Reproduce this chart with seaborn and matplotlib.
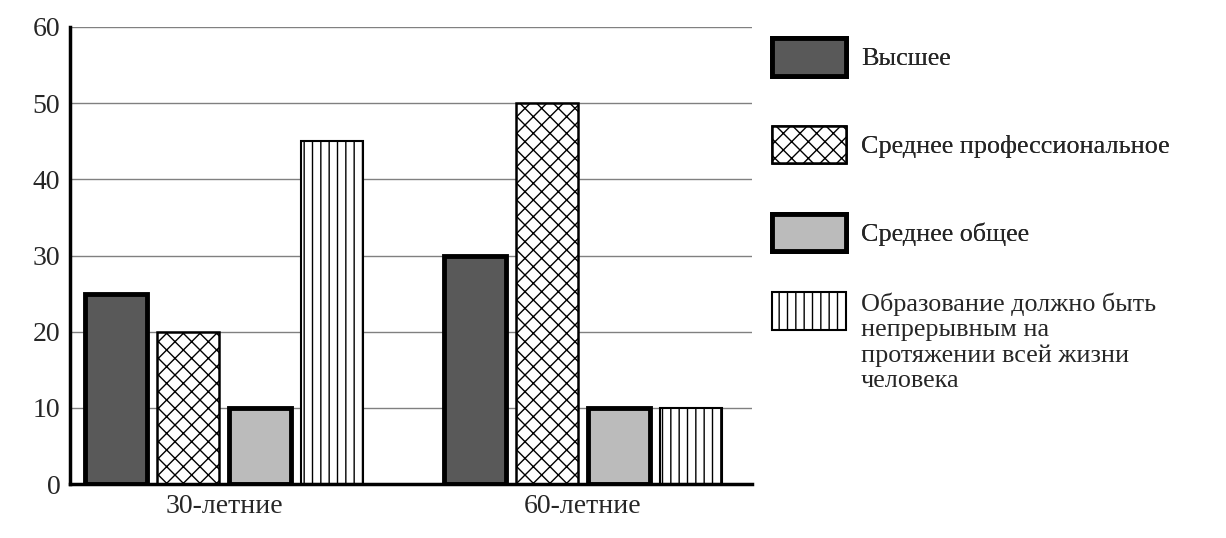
import matplotlib
matplotlib.use("Agg")
import matplotlib.pyplot as plt
import seaborn as sns
import pandas as pd
from matplotlib.patches import Patch

groups = ["30-летние", "60-летние"]
levels = ["Высшее", "Среднее профессиональное", "Среднее общее",
          "Образование должно быть\nнепрерывным на\nпротяжении всей жизни\nчеловека"]
vals_30 = [25, 20, 10, 45]
vals_60 = [30, 50, 10, 10]
yticks = [0, 10, 20, 30, 40, 50, 60]

rows = []
for g, vals in zip(groups, [vals_30, vals_60]):
    for lev, v in zip(levels, vals):
        rows.append({"group": g, "level": lev, "value": v})
df = pd.DataFrame(rows)

sns.set_style("white")
plt.rcParams["font.family"] = ["Liberation Serif", "DejaVu Serif"]
plt.rcParams["hatch.linewidth"] = 1.0
plt.rcParams["hatch.color"] = "black"

fig = plt.figure(figsize=(12.26, 5.38), dpi=100)
ax = fig.add_axes([70/1226, 1-484/538, (752-70)/1226, (484-27)/538])

palette = ["#595959", "white", "#bbbbbb", "white"]
sns.barplot(data=df, x="group", y="value", hue="level", hue_order=levels,
            palette=palette, width=0.8, gap=0.135, ax=ax, zorder=3,
            saturation=1, legend=False)

hatches = [None, "xx", None, "||"]
lws = [3.5, 1.8, 3.5, 1.5]
for cont, h, lw in zip(ax.containers, hatches, lws):
    for p in cont.patches:
        p.set_edgecolor("black")
        p.set_linewidth(lw)
        if h:
            p.set_hatch(h)

ax.set_ylim(0, 60)
ax.set_xlim(-0.429, 1.471)
ax.set_yticks(yticks)
ax.yaxis.grid(True, color="#808080", linewidth=1.0, zorder=0)
ax.set_axisbelow(True)
for s in ["top", "right"]:
    ax.spines[s].set_visible(False)
for s in ["left", "bottom"]:
    ax.spines[s].set_color("black")
    ax.spines[s].set_linewidth(2.5)
    ax.spines[s].set_zorder(5)
ax.tick_params(axis="both", length=0, labelsize=20)
ax.tick_params(axis="x", pad=7)
ax.tick_params(axis="y", pad=7)
ax.set_xlabel("")
ax.set_ylabel("")

handles = [Patch(facecolor=palette[i], edgecolor="black", linewidth=lws[i],
                 hatch=hatches[i]) for i in range(4)]
leg_kw = dict(loc="upper left", frameon=False, borderpad=0, borderaxespad=0,
              fontsize=18.8, handlelength=2.85, handleheight=1.84,
              handletextpad=0.55, labelspacing=1.92)
leg1 = fig.legend(handles=handles[:3], labels=levels[:3],
                  bbox_to_anchor=(772/1226, 1-38/538), **leg_kw)
leg2 = fig.legend(handles=handles[3:], labels=levels[3:],
                  bbox_to_anchor=(772/1226, 1-292/538), **leg_kw)
leg2._legend_handle_box.get_children()[0].get_children()[0].align = "top"
fig.add_artist(leg1)

fig.savefig("out.png", dpi=100)
